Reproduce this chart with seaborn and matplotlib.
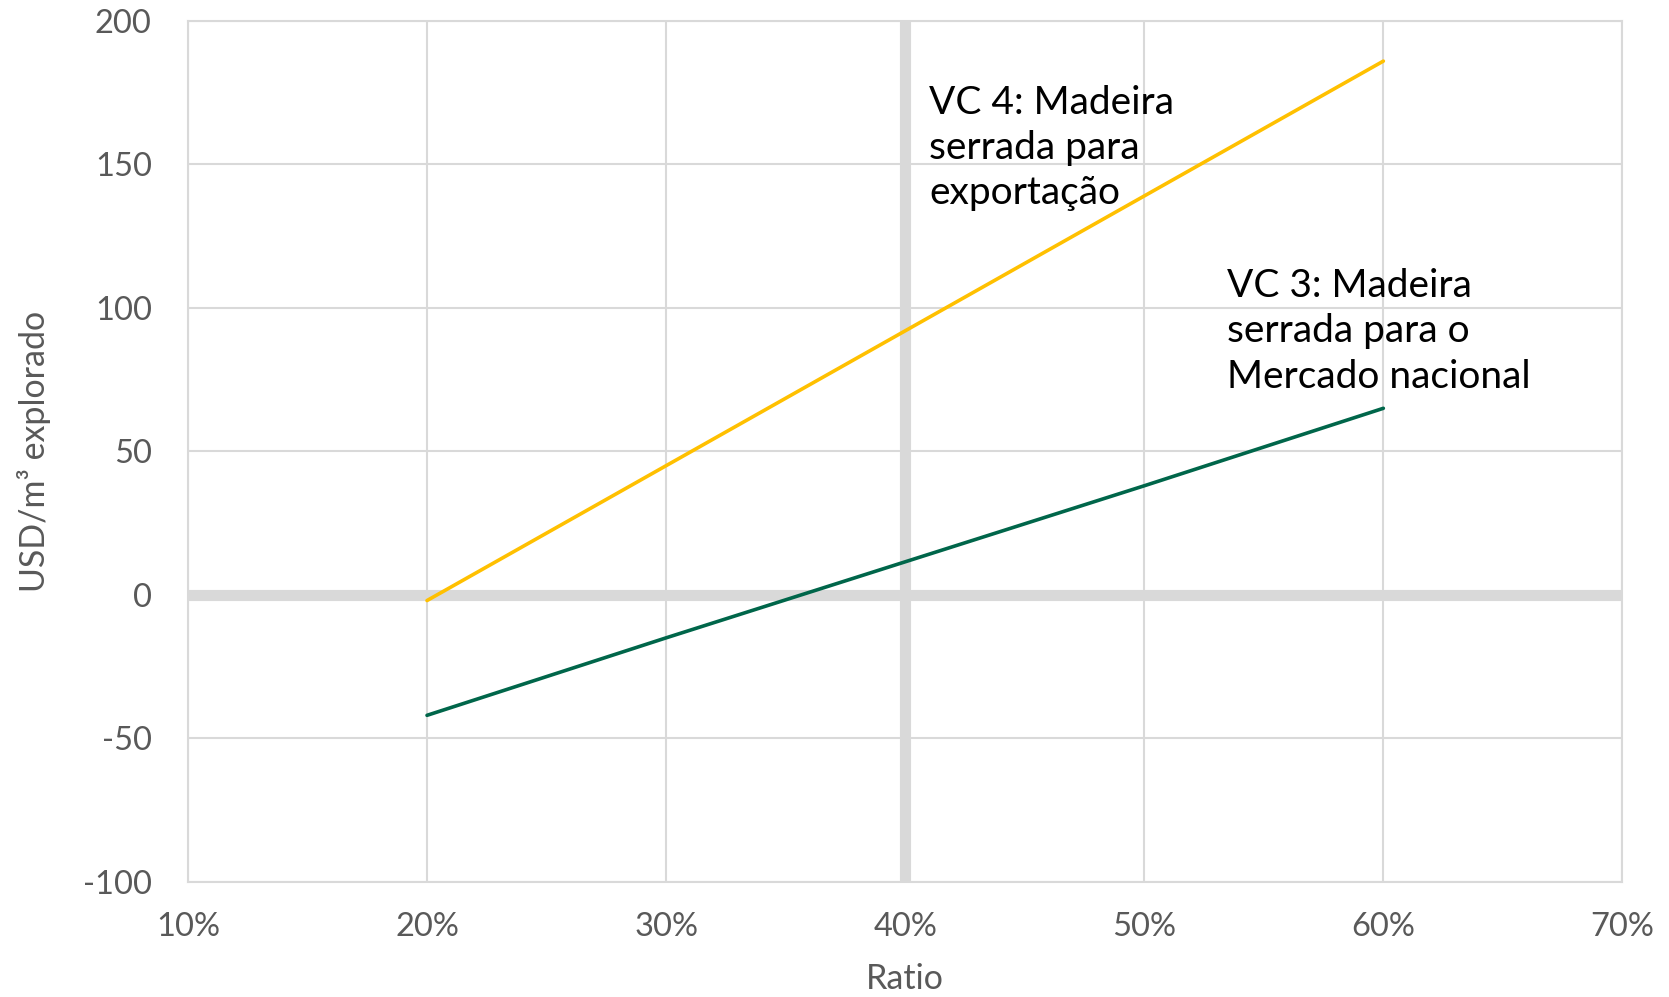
import matplotlib
matplotlib.use("Agg")
import matplotlib.pyplot as plt
import matplotlib.ticker as mticker
import seaborn as sns
import pandas as pd

ratio = [0.20, 0.30, 0.40, 0.50, 0.60]
vc4_export = [-2, 45, 92, 139, 186]
vc3_national = [-42, -15, 11.5, 38, 65]
series_names = ["VC 4: Madeira\nserrada para\nexportação", "VC 3: Madeira\nserrada para o\nMercado nacional"]
x_ticks = [0.1, 0.2, 0.3, 0.4, 0.5, 0.6, 0.7]
y_ticks = [-100, -50, 0, 50, 100, 150, 200]

df = pd.DataFrame({
    "Ratio": ratio * 2,
    "value": vc4_export + vc3_national,
    "series": [series_names[0]] * len(ratio) + [series_names[1]] * len(ratio),
})

sns.set_theme(style="white")
plt.rcParams["font.family"] = ["Lato", "DejaVu Sans"]
plt.rcParams["axes.unicode_minus"] = False

fig = plt.figure(figsize=(16.69, 9.97), dpi=100)
ax = fig.add_axes([0.1126, 0.1156, 0.8595, 0.8634])

grid_c = "#D9D9D9"
ax.set_xlim(0.1, 0.7)
ax.set_ylim(-100, 200)
ax.set_xticks(x_ticks)
ax.set_yticks(y_ticks)
ax.xaxis.set_major_formatter(mticker.PercentFormatter(1.0, decimals=0))
ax.grid(True, color=grid_c, linewidth=1.5)
ax.set_axisbelow(True)
for s in ax.spines.values():
    s.set_color(grid_c)
    s.set_linewidth(1.5)

ax.axhline(0, color=grid_c, linewidth=8, zorder=1.5)
ax.axvline(0.4, color=grid_c, linewidth=8, zorder=1.5)

sns.lineplot(data=df, x="Ratio", y="value", hue="series",
             palette=["#FFC000", "#00664A"], linewidth=2.6, legend=False, ax=ax, zorder=3)

ax.tick_params(axis="both", length=0, labelsize=23.5, labelcolor="#595959")
ax.tick_params(axis="x", pad=22)
ax.tick_params(axis="y", pad=26)
ax.set_xlabel("Ratio", fontsize=24.5, color="#595959", labelpad=15)
ax.set_ylabel("USD/m³ explorado", fontsize=24.5, color="#595959", labelpad=23)

ax.text(0.41, 177.5, series_names[0], ha="left", va="top", fontsize=28,
        color="black", linespacing=1.3, zorder=4)
ax.text(0.5345, 114, series_names[1], ha="left", va="top", fontsize=28,
        color="black", linespacing=1.33, zorder=4)

fig.savefig("out.png", dpi=100)
